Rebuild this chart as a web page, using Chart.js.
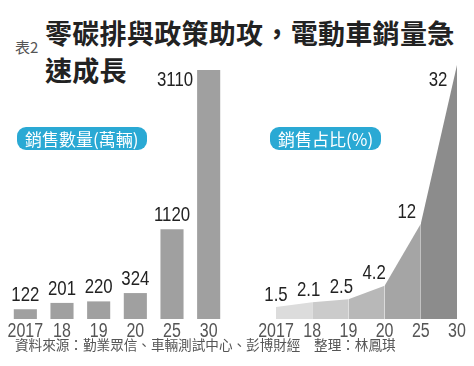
<!DOCTYPE html>
<html>
<head>
<meta charset="utf-8">
<script src="https://cdn.jsdelivr.net/npm/chart.js@4/dist/chart.umd.min.js"></script>
<style>
  body { margin: 0; background: #fff; }
  #wrap { position: relative; width: 474px; height: 366px; overflow: hidden; font-family: "Noto Sans CJK TC", "Noto Sans", sans-serif; }
  .abs { position: absolute; white-space: nowrap; }
  #tag { left: 15px; top: 36px; font-size: 15px; color: #555; }
  #title { left: 45px; top: 14px; font-size: 27px; line-height: 37px; font-weight: 700; color: #222; letter-spacing: 0.3px; }
  .badge { background: #2aa9d4; color: #fff; font-size: 17px; height: 23px; line-height: 23px; border-radius: 9px; padding: 0 8px; }
  #b1 { left: 17px; top: 127px; }
  #b2 { left: 270px; top: 127px; }
  #src { left: 15px; top: 334px; font-size: 13.6px; color: #555; }
  canvas { position: absolute; }
</style>
</head>
<body>
<div id="wrap">
  <div class="abs" id="tag">表2</div>
  <div class="abs" id="title">零碳排與政策助攻，電動車銷量急<br>速成長</div>
  <canvas id="c1" width="237" height="289" style="left:0;top:60px"></canvas>
  <canvas id="c2" width="234" height="289" style="left:240px;top:60px"></canvas>
  <div class="abs badge" id="b1">銷售數量(萬輛)</div>
  <div class="abs badge" id="b2">銷售占比(%)</div>
  <div class="abs" id="src">資料來源：勤業眾信、車輛測試中心、彭博財經　整理：林鳳琪</div>
</div>
<script>
const years = ['2017', '18', '19', '20', '25', '30'];
const salesVolume = [122, 201, 220, 324, 1120, 3110];   // 萬輛
const salesShare = [1.5, 2.1, 2.5, 4.2, 12, 32];        // %
const shareLabels = ['1.5', '2.1', '2.5', '4.2', '12', '32'];

const numFont = '"Liberation Sans", Arial, sans-serif';
const shades = ['#dcdcdc', '#cbcbcb', '#b8b8b8', '#a5a5a5', '#8c8c8c'];

// no condensed font installed, so squeeze the numbers horizontally
function narrowText(ctx, text, x, y) {
    ctx.save();
    ctx.translate(x, y);
    ctx.scale(0.8, 1);
    ctx.fillText(text, 0, 0);
    ctx.restore();
}

// draws the value over each mark (moved aside when it would leave the chart) and the year ticks
const valueLabels = {
    id: 'valueLabels',
    afterDatasetsDraw(chart, args, opts) {
        const ctx = chart.ctx;
        const meta = chart.getDatasetMeta(0);
        ctx.save();
        ctx.font = '21px ' + numFont;
        ctx.fillStyle = '#222';
        ctx.textBaseline = 'middle';
        meta.data.forEach((el, i) => {
            const text = opts.texts[i];
            if (opts.kind === 'bar') {
                if (el.y - 26 < 0) {
                    ctx.textAlign = 'right';
                    narrowText(ctx, text, el.x - el.width / 2 - 4, el.y + 10);
                } else {
                    ctx.textAlign = 'center';
                    narrowText(ctx, text, el.x, el.y - 14);
                }
            } else {
                ctx.textAlign = 'center';
                if (el.y - 26 < 0) {
                    narrowText(ctx, text, el.x - 19, el.y + 15);
                } else {
                    narrowText(ctx, text, el.x - 3.5 * i, el.y - 12);
                }
            }
        });

        const xs = chart.scales.x;
        ctx.font = '20px ' + numFont;
        ctx.fillStyle = '#555';
        ctx.textAlign = 'center';
        ctx.textBaseline = 'top';
        xs.ticks.forEach((t, i) => {
            narrowText(ctx, xs.getLabelForValue(t.value), xs.getPixelForTick(i), xs.top + 2);
        });
        ctx.restore();
    }
};

const xAxis = {
    grid: { display: false, drawTicks: false },
    border: { display: false },
    ticks: { color: 'rgba(0,0,0,0)', font: { family: numFont, size: 15 }, padding: 2, maxRotation: 0, autoSkip: false },
    afterFit(scale) { scale.height = 30; }
};

new Chart(document.getElementById('c1'), {
    type: 'bar',
    data: {
        labels: years,
        datasets: [{
            data: salesVolume,
            backgroundColor: '#a0a0a0',
            barPercentage: 1,
            categoryPercentage: 0.63
        }]
    },
    options: {
        responsive: false,
        animation: false,
        devicePixelRatio: 1,
        layout: { padding: { top: 10, left: 7, right: 10, bottom: 0 } },
        plugins: {
            legend: { display: false },
            tooltip: { enabled: false },
            valueLabels: { kind: 'bar', texts: salesVolume.map(String) }
        },
        scales: {
            x: xAxis,
            y: { display: false, min: 0, max: 3110 }
        }
    },
    plugins: [valueLabels]
});

new Chart(document.getElementById('c2'), {
    type: 'line',
    data: {
        labels: years,
        datasets: [{
            data: salesShare,
            fill: 'origin',
            borderWidth: 0,
            pointRadius: 0,
            tension: 0,
            backgroundColor: shades[0],
            segment: {
                backgroundColor: ctx => shades[ctx.p0DataIndex]
            }
        }]
    },
    options: {
        responsive: false,
        animation: false,
        devicePixelRatio: 1,
        layout: { padding: { top: 5, left: 36, right: 17, bottom: 0 } },
        plugins: {
            legend: { display: false },
            tooltip: { enabled: false },
            valueLabels: { kind: 'line', texts: shareLabels }
        },
        scales: {
            x: xAxis,
            y: { display: false, min: 0, max: 32 }
        }
    },
    plugins: [valueLabels]
});
</script>
</body>
</html>
